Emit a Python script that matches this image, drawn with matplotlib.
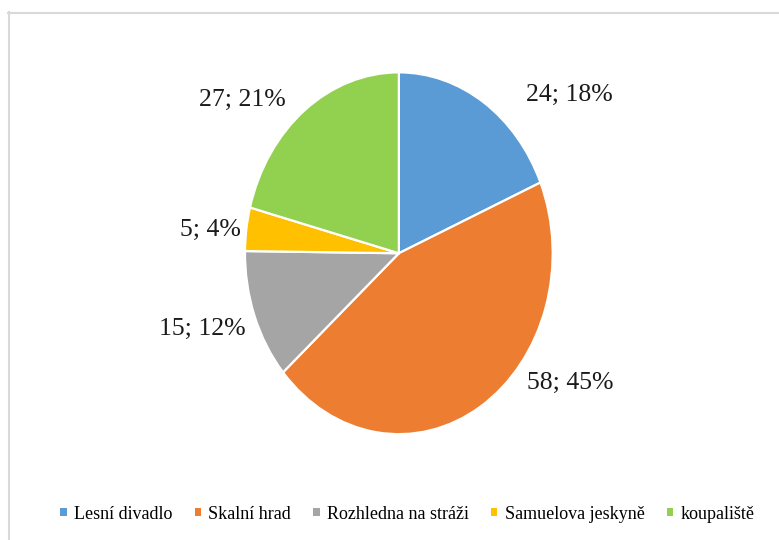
import matplotlib
matplotlib.use("Agg")
from matplotlib import pyplot
from matplotlib import patches
from matplotlib.lines import Line2D

categories = ["Lesní divadlo", "Skalní hrad", "Rozhledna na stráži", "Samuelova jeskyně", "koupaliště"]
counts = [24, 58, 15, 5, 27]
percents = [18, 45, 12, 4, 21]
colors = ["#5B9BD5", "#ED7D31", "#A5A5A5", "#FFC000", "#92D050"]

# label placement (axis units, pie radius = 1), Excel "best fit" style
label_xy = [(1.107, 0.873), (1.117, -0.718), (-1.279, -0.42), (-1.227, 0.127), (-1.02, 0.845)]

pyplot.rcParams['font.family'] = ['Liberation Serif', 'DejaVu Serif']

fig = pyplot.figure(figsize=(7.79, 5.40), dpi=100)
ax = fig.add_axes([0.3145, 0.196, 0.395, 0.670])

wedges, _ = ax.pie(counts, colors=colors, startangle=90, counterclock=False,
                   radius=1, wedgeprops=dict(edgecolor='white', linewidth=1.6))
ax.set_aspect('auto')
ax.set_xlim(-1, 1)
ax.set_ylim(-1, 1)
ax.axis('off')

for (x, y), c, p in zip(label_xy, counts, percents):
    ax.text(x, y, "%d; %d%%" % (c, p), fontsize=18.5, ha='center', va='center', color='#1a1a1a',
            family=['Liberation Serif', 'DejaVu Serif'])

# frame lines of the chart area (cropped)
fig.add_artist(Line2D([8 / 779, 778 / 779], [1 - 12.5 / 540, 1 - 12.5 / 540],
                      transform=fig.transFigure, color='#d9d9d9', linewidth=1.5))
fig.add_artist(Line2D([8.5 / 779, 8.5 / 779], [0, 1 - 12 / 540],
                      transform=fig.transFigure, color='#d9d9d9', linewidth=1.5))

legend_elements = [patches.Patch(facecolor=col, edgecolor='none', label=lab) for col, lab in zip(colors, categories)]
fig.legend(handles=legend_elements, loc='center', bbox_to_anchor=(0.523, 0.048), ncol=5, frameon=False,
           prop=dict(family=['Liberation Serif', 'DejaVu Serif'], size=13),
           handlelength=0.34, handleheight=0.34, handletextpad=0.4, columnspacing=1.25)

pyplot.savefig('out.png', dpi=100)
